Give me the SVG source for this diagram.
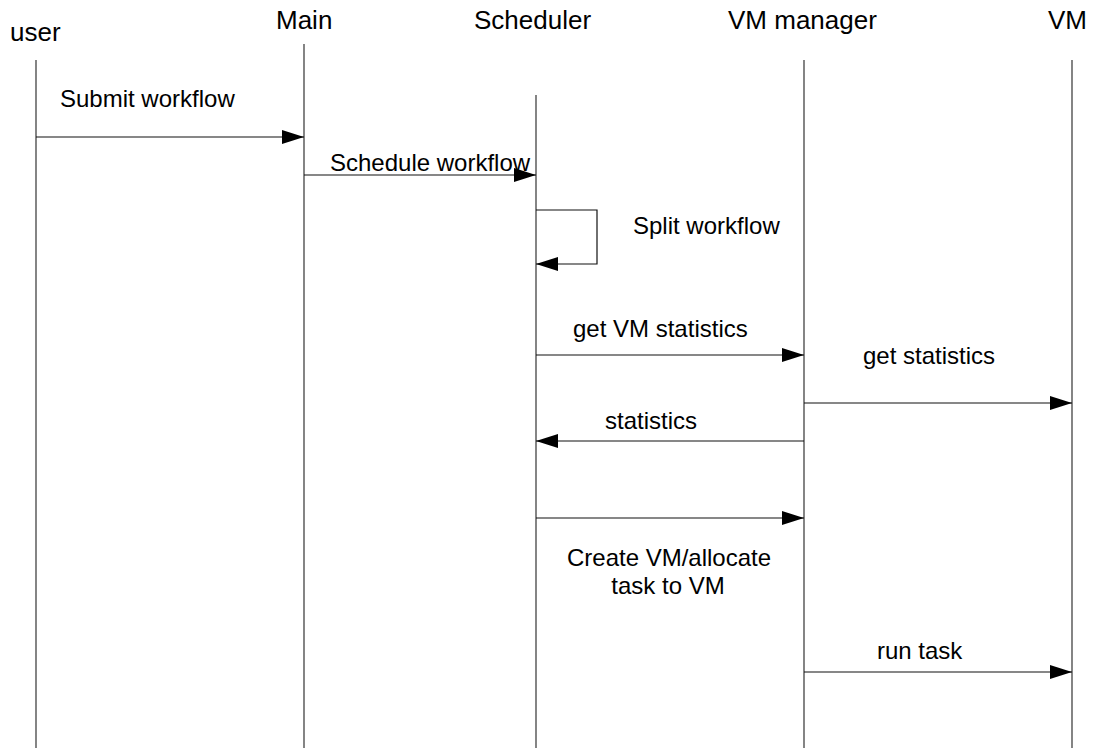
<svg xmlns="http://www.w3.org/2000/svg" width="1095" height="751" viewBox="0 0 1095 751">
  <style>
    .head { font-family: "Liberation Sans", Arial, sans-serif; font-size: 26px; fill: #000; }
    .lbl { font-family: "Liberation Sans", Arial, sans-serif; font-size: 24px; fill: #000; }
    .life { stroke: #333; stroke-width: 1.2; fill: none; }
    .msg { stroke: #111; stroke-width: 1.2; fill: none; marker-end: url(#arrow); }
  </style>
  <defs>
    <marker id="arrow" markerUnits="userSpaceOnUse" markerWidth="22" markerHeight="14" refX="22" refY="7" orient="auto">
      <path d="M0,0 L22,7 L0,14 Z" fill="#000"/>
    </marker>
  </defs>
  <rect width="1095" height="751" fill="#fff"/>

  <!-- participants with their lifelines -->
  <g id="user">
    <text class="head" x="10" y="41">user</text>
    <line class="life" x1="36" y1="60" x2="36" y2="748"/>
  </g>
  <g id="main">
    <text class="head" x="276" y="29">Main</text>
    <line class="life" x1="304" y1="44" x2="304" y2="748"/>
  </g>
  <g id="scheduler">
    <text class="head" x="474" y="29">Scheduler</text>
    <line class="life" x1="536" y1="95" x2="536" y2="748"/>
  </g>
  <g id="vm-manager">
    <text class="head" x="728" y="29">VM manager</text>
    <line class="life" x1="804" y1="60" x2="804" y2="748"/>
  </g>
  <g id="vm">
    <text class="head" x="1048" y="29">VM</text>
    <line class="life" x1="1072" y1="60" x2="1072" y2="748"/>
  </g>

  <!-- messages -->
  <g id="connectors">
    <line class="msg" x1="36" y1="137" x2="304" y2="137"/>
    <line class="msg" x1="304" y1="175" x2="536" y2="175"/>
    <polyline class="msg" points="536,210 597,210 597,264 536,264"/>
    <line class="msg" x1="536" y1="355" x2="804" y2="355"/>
    <line class="msg" x1="804" y1="403" x2="1072" y2="403"/>
    <line class="msg" x1="804" y1="441" x2="536" y2="441"/>
    <line class="msg" x1="536" y1="518" x2="804" y2="518"/>
    <line class="msg" x1="804" y1="672" x2="1072" y2="672"/>
  </g>

  <!-- message labels -->
  <g id="labels">
    <text class="lbl" x="60" y="107">Submit workflow</text>
    <text class="lbl" x="330" y="171">Schedule workflow</text>
    <text class="lbl" x="633" y="234">Split workflow</text>
    <text class="lbl" x="573" y="337">get VM statistics</text>
    <text class="lbl" x="863" y="364">get statistics</text>
    <text class="lbl" x="605" y="429">statistics</text>
    <text class="lbl" x="669" y="566" text-anchor="middle">Create VM/allocate</text>
    <text class="lbl" x="668" y="594" text-anchor="middle">task to VM</text>
    <text class="lbl" x="877" y="659">run task</text>
  </g>
</svg>
